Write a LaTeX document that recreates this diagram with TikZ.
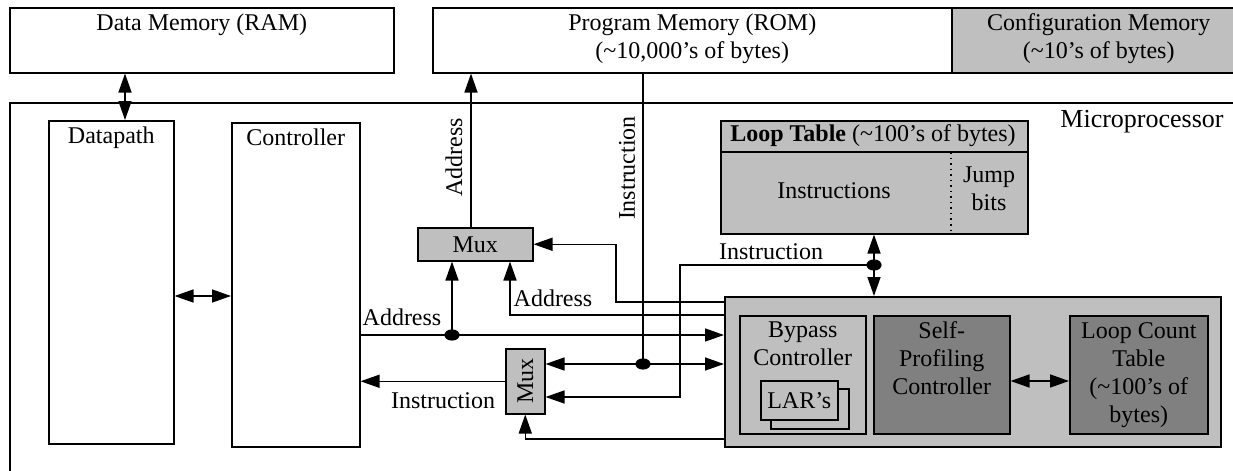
\documentclass[tikz,border=0pt]{standalone}
\usepackage{fontspec}
\setmainfont{Liberation Serif}
\usetikzlibrary{arrows.meta,positioning,calc}
\tikzset{
	blk/.style={draw, line width=0.27mm, inner sep=0pt, anchor=north west, align=center, font=\fontsize{12}{14}\selectfont},
	sz/.style 2 args={minimum width=#1*0.5pt, minimum height=#2*0.5pt},
	lbl/.style={inner sep=1pt, align=center, font=\fontsize{12}{14}\selectfont},
	wire/.style={line width=0.27mm},
	tip/.style={wire, -{Triangle[length=9.5pt,width=6.5pt]}},
	tips/.style={wire, {Triangle[length=9.5pt,width=6.5pt]}-{Triangle[length=9.5pt,width=6.5pt]}},
}
\begin{document}
\begin{tikzpicture}[x=0.5pt, y=-0.5pt]
		%%%%% START %%%%%
		\useasboundingbox (0,0) rectangle (1233,471);
		
		\node[blk, sz={384}{65}] (datamem) at (9,7) {};
		\node[lbl, below=2pt of datamem.north] (datamemt) {Data Memory (RAM)};
		\node[blk, sz={519}{65}] (progmem) at (432,7) {};
		\node[lbl, below=2pt of progmem.north] (progmemt) {Program Memory (ROM)\\(\textasciitilde10,000’s of bytes)};
		\node[blk, sz={294}{65}, fill=black!25] (confmem) at (951,7) {};
		\node[lbl, below=2pt of confmem.north] (confmemt) {Configuration Memory\\(\textasciitilde10’s of bytes)};
		
		\draw[wire] (1240,103) -- (10,103) -- (10,480);
		\node[lbl, font=\fontsize{13}{15}\selectfont] (mproc) at (1142,122) {Microprocessor};
		
		\node[blk, sz={125}{323}] (dpath) at (48,120) {};
		\node[lbl, below=2pt of dpath.north] (dpatht) {Datapath};
		\node[blk, sz={128}{324}] (ctrl) at (231,122) {};
		\node[lbl, below=2pt of ctrl.north] (ctrlt) {Controller};
		
		\node[blk, sz={115}{33}, fill=black!25] (muxA) at (417,227) {Mux};
		\node[blk, sz={39}{65}, fill=black!25] (muxB) at (505,348) {};
		\node[lbl, rotate=90] (muxBt) at (muxB.center) {Mux};
		
		% loop table
		\node[blk, sz={307}{113}, fill=black!25] (ltab) at (720,120) {};
		\coordinate (ltdiv) at (720,152);
		\draw[wire] (ltdiv) -- (ltdiv -| ltab.east);
		\draw[wire, dotted] (ltdiv -| confmem.west) -- (ltab.south -| confmem.west);
		\node[lbl] (lthead) at (873,136) {\textbf{Loop Table} (\textasciitilde100’s of bytes)};
		\node[lbl] (ltins) at (834,191) {Instructions};
		\node[lbl] (ltjump) at (989,189) {Jump\\bits};
		
		% loop controller
		\node[blk, sz={496}{150}, fill=black!25] (lctl) at (724,296) {};
		\node[blk, sz={126}{118}, fill=black!25] (bypass) at (739,315) {};
		\node[lbl, below=2pt of bypass.north] (bypasst) {Bypass\\Controller};
		\node[blk, sz={78}{40}, fill=black!25] (larB) at (770,388) {};
		\node[blk, sz={77}{39}, fill=black!25] (larA) at (760,380) {LAR’s};
		\node[blk, sz={136}{118}, fill=black!50] (selfp) at (873,315) {};
		\node[lbl, below=2pt of selfp.north] (selfpt) {Self-\\Profiling\\Controller};
		\node[blk, sz={138}{118}, fill=black!50] (lcount) at (1069,315) {Loop Count\\Table\\(\textasciitilde100’s of\\bytes)};
		
		% rows and columns of the wires
		\coordinate (rowDP) at (0,296);
		\coordinate (rowA) at (0,335);
		\coordinate (rowB) at (0,315);
		\coordinate (rowC) at (0,302);
		\coordinate (rowI) at (0,364);
		\coordinate (rowJ) at (0,397);
		\coordinate (rowK) at (0,439);
		\coordinate (rowT) at (0,265);
		\coordinate (rowSP) at (0,381);
		\coordinate (colDM) at (125,0);
		\coordinate (colAu) at (471,0);
		\coordinate (colAd) at (452,0);
		\coordinate (colB) at (510,0);
		\coordinate (colC) at (616,0);
		\coordinate (colI) at (643,0);
		\coordinate (colJ) at (680,0);
		\coordinate (colT) at (874,0);
		
		\draw[tips] (datamem.south -| colDM) -- (dpath.north -| colDM);
		\draw[tips] (dpath.east |- rowDP) -- (ctrl.west |- rowDP);
		
		\draw[tip] (muxA.north -| colAu) -- (progmem.south -| colAu);
		\draw[wire] (progmem.south -| colI) -- (colI |- rowI);
		
		\draw[tip] (ctrl.east |- rowA) -- (lctl.west |- rowA);
		\draw[tip] (colAd |- rowA) -- (muxA.south -| colAd);
		\fill (colAd |- rowA) ellipse [x radius=3.8pt, y radius=2.8pt];
		\draw[tip] (lctl.west |- rowB) -| (muxA.south -| colB);
		\draw[tip] (lctl.west |- rowC) -| (colC |- muxA.east) -- (muxA.east);
		
		\draw[tips] (muxB.east |- rowI) -- (lctl.west |- rowI);
		\fill (colI |- rowI) ellipse [x radius=3.8pt, y radius=2.8pt];
		\draw[tip] (colT |- rowT) -| (colJ |- rowJ) -- (muxB.east |- rowJ);
		\draw[tip] (lctl.west |- rowK) -| (muxB.south);
		\draw[tip] (muxB.west) -- (muxB.west -| ctrl.east);
		
		\draw[tips] (ltab.south -| colT) -- (lctl.north -| colT);
		\fill (colT |- rowT) ellipse [x radius=3.8pt, y radius=2.8pt];
		\draw[tips] (selfp.east |- rowSP) -- (lcount.west |- rowSP);
		
		\node[lbl] (adrL) at (402,317) {Address};
		\node[lbl] (adrR) at (553,298) {Address};
		\node[lbl] (insL) at (443,401) {Instruction};
		\node[lbl] (insT) at (771,252) {Instruction};
		\node[lbl, rotate=90] (adrV) at (454,157) {Address};
		\node[lbl, rotate=90] (insV) at (627,168) {Instruction};
		
		%%%%% END %%%%%
	\end{tikzpicture}
\end{document}
